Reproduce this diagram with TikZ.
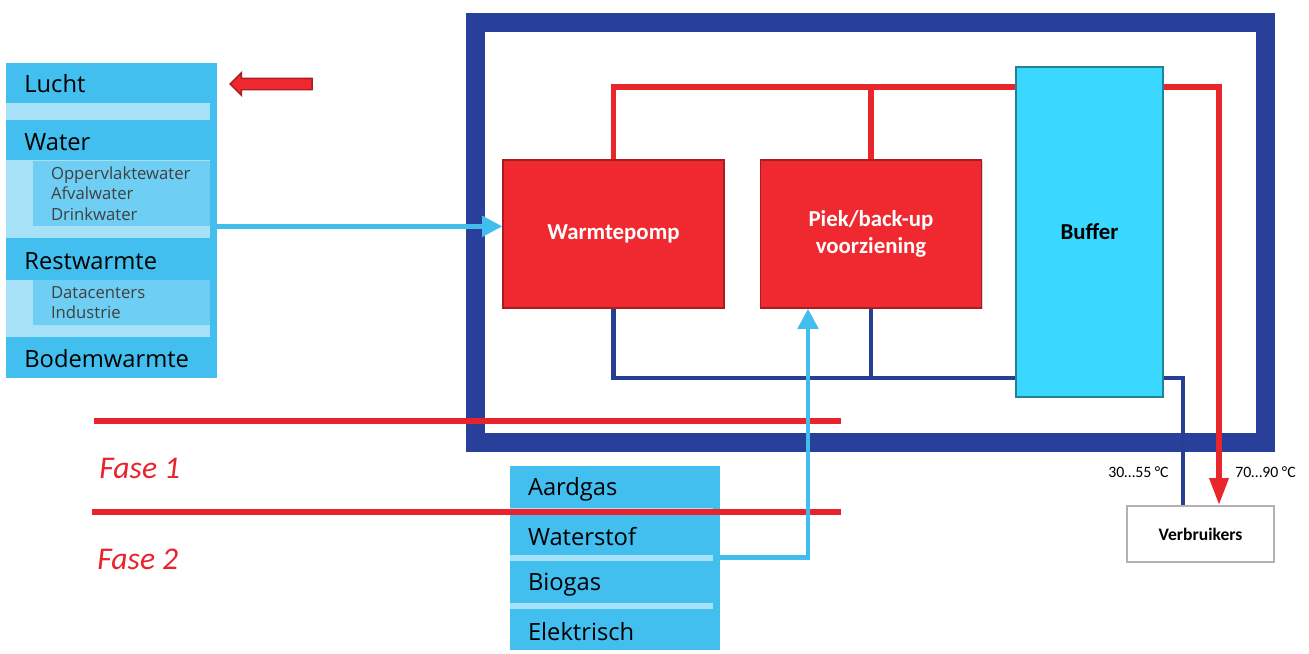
\documentclass[tikz,border=0pt]{standalone}
\usepackage{fontspec}
\setmainfont{Carlito}
\newfontfamily\lijstfont{Open Sans}
\definecolor{wpred}{RGB}{240,40,48}
\definecolor{leidingrood}{RGB}{232,38,44}
\definecolor{faserood}{RGB}{232,35,43}
\definecolor{kaderblauw}{RGB}{40,64,154}
\definecolor{retourblauw}{RGB}{38,62,150}
\definecolor{buffercyaan}{RGB}{58,216,254}
\definecolor{bronblauw}{RGB}{66,191,238}
\definecolor{bandlicht}{RGB}{166,225,248}
\definecolor{sublicht}{RGB}{110,206,243}
\definecolor{pijlblauw}{RGB}{66,190,238}
\usetikzlibrary{arrows.meta,positioning,calc,shapes.arrows,shadows}

\begin{document}
\begin{tikzpicture}[x=0.02cm, y=-0.02cm,
  rood/.style={draw=leidingrood, line width=2.9pt},
  retour/.style={draw=retourblauw, line width=2.5pt},
  bronpijl/.style={draw=pijlblauw, line width=2.6pt, -{Triangle[length=11.5pt,width=11.5pt]}},
  ketel/.style={fill=wpred, draw=wpred!70!black, line width=0.8pt, minimum width=4.42cm, minimum height=2.96cm, align=center, text=white, font=\fontsize{13}{15.6}\selectfont\bfseries, drop shadow={shadow xshift=0.8pt, shadow yshift=-0.8pt, opacity=0.35}},
  kop/.style={anchor=west, inner sep=0pt, font=\lijstfont\fontsize{13.5}{16}\selectfont},
  lijst/.style={fill=sublicht, text width=2.82cm, inner xsep=0.36cm, inner ysep=0pt, align=left, text=black!75, font=\lijstfont\fontsize{9.5}{11.6}\selectfont},
  rij/.style={minimum width=4.2cm, minimum height=0.82cm, text width=3.48cm, inner xsep=0.36cm, inner ysep=0pt, align=left, font=\lijstfont\fontsize{13.5}{16}\selectfont},
  fase/.style={draw=faserood, line width=3.4pt},
  faselabel/.style={anchor=west, inner sep=0pt, text=faserood, font=\fontsize{18}{21}\selectfont\itshape},
  temp/.style={inner sep=0pt, font=\fontsize{9}{11}\selectfont}
]
  \useasboundingbox (0,0) rectangle (1309,653);

  %% Warmtebronnen (links)
  \node[fill=bronblauw, minimum width=4.22cm, minimum height=6.3cm, inner sep=0pt] (bron) at (111.5,220.5) {};
  \fill[bandlicht] (6,103) rectangle (210,120);
  \fill[bandlicht] (6,160) rectangle (210,238);
  \fill[bandlicht] (6,280) rectangle (210,337);
  \node[kop] (lucht) at (24,84) {Lucht};
  \node[kop] (water) at (24,142) {Water};
  \node[lijst, minimum height=1.3cm] (waterlijst) at (121.5,193.5) {Oppervlaktewater\\Afvalwater\\Drinkwater};
  \node[kop] (restwarmte) at (24,261) {Restwarmte};
  \node[lijst, minimum height=0.9cm] (restlijst) at (121.5,302.5) {Datacenters\\Industrie};
  \node[kop] (bodem) at (24,359) {Bodemwarmte};

  %% Pijl naar Lucht
  \node[single arrow, shape border rotate=180, fill=wpred, draw=wpred!70!black, line width=0.8pt, minimum height=1.64cm, minimum width=0.42cm, inner xsep=0pt, inner ysep=0.1cm, single arrow head extend=0.11cm] (luchtpijl) at (274,84) {};

  %% Installatie-kader
  \node[draw=kaderblauw, line width=10.8pt, minimum width=15.81cm, minimum height=8.4cm, inner sep=0pt] (kader) at (870.25,232.5) {};

  %% Opwekkers en buffer
  \node[ketel] (wp) at (613.5,234) {Warmtepomp};
  \node[ketel] (piek) at (871,234) {Piek/back-up\\voorziening};
  \node[fill=buffercyaan, draw=buffercyaan!60!black, line width=0.8pt, minimum width=2.94cm, minimum height=6.6cm, font=\fontsize{13}{15}\selectfont\bfseries, drop shadow={shadow xshift=0.8pt, shadow yshift=-0.8pt, opacity=0.35}] (buffer) at (1089.5,232) {Buffer};

  %% Verbruikers
  \node[fill=white, draw=gray!60, line width=1.2pt, minimum width=2.94cm, minimum height=1.12cm, font=\fontsize{10}{12}\selectfont\bfseries, drop shadow={shadow xshift=0.6pt, shadow yshift=-0.6pt, opacity=0.3}] (verbr) at (1200.5,534) {Verbruikers};

  %% Brandstoffen (onder)
  \node[fill=bronblauw, minimum width=4.2cm, minimum height=3.7cm, inner sep=0pt] (brandstof) at (615,558) {};
  \fill[bandlicht] (510,508) rectangle (713,514);
  \fill[bandlicht] (510,555) rectangle (713,561);
  \fill[bandlicht] (510,603) rectangle (713,609);
  \node[rij] (aardgas) at (615,489.5) {Aardgas};
  \node[rij] (waterstof) at (615,536.5) {Waterstof};
  \node[rij] (biogas) at (615,584.5) {Biogas};
  \node[rij] (elektrisch) at (615,631.5) {Elektrisch};

  %% Fasen
  \draw[fase] (94,421) -- (841,421);
  \draw[fase] (92,512) -- (841,512);
  \node[faselabel] (fase1) at (99,468) {Fase 1};
  \node[faselabel] (fase2) at (97,559) {Fase 2};

  %% Aanvoer (rood)
  \coordinate (aanvoer) at (buffer.west |- 0,87);
  \draw[rood] (wp.north) |- (aanvoer);
  \draw[rood] (piek.north) -- (piek.north |- aanvoer);
  \draw[rood, -{Triangle[length=15.3pt,width=10.5pt]}] (buffer.east |- aanvoer) -| ($(verbr.north)+(18.5,0)$);

  %% Retour (blauw)
  \coordinate (retourpunt) at (buffer.west |- 0,378);
  \draw[retour] (wp.south) |- (retourpunt);
  \draw[retour] (piek.south) -- (piek.south |- retourpunt);
  \draw[retour] (buffer.east |- retourpunt) -| ($(verbr.north)+(-17.5,0)$);

  %% Temperaturen
  \node[temp, anchor=east] (laagtemp) at (1169,472) {30…55 °C};
  \node[temp, anchor=west] (hoogtemp) at (1235,472) {70…90 °C};

  %% Bronpijlen
  \draw[bronpijl] (bron.east |- waterlijst.south) -- (wp.west |- waterlijst.south);
  \draw[bronpijl] (waterstof.south east) -| ($(piek.south)+(-63,0)$);
\end{tikzpicture}
\end{document}
